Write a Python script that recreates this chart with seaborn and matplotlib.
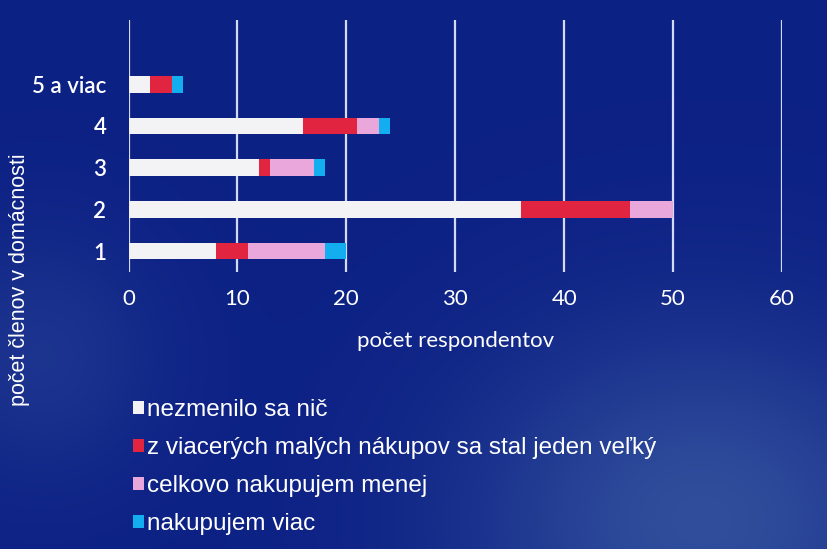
import numpy as np
import pandas as pd
import matplotlib
matplotlib.use("Agg")
import matplotlib.pyplot as plt
from matplotlib.patches import Patch
import seaborn as sns

# data
categories = ["5 a viac", "4", "3", "2", "1"]
nezmenilo = [2, 16, 12, 36, 8]
viacero_do_jedneho = [2, 5, 1, 10, 3]
menej = [0, 2, 4, 4, 7]
viac = [1, 1, 1, 0, 2]

series_names = [
    "nezmenilo sa nič",
    "z viacerých malých nákupov sa stal jeden veľký",
    "celkovo nakupujem menej",
    "nakupujem viac",
]
series_colors = ["#f3f3f5", "#e1243f", "#eaa7dc", "#12aef0"]

df = pd.DataFrame({
    "clenov": categories,
    series_names[0]: nezmenilo,
    series_names[1]: viacero_do_jedneho,
    series_names[2]: menej,
    series_names[3]: viac,
})

sns.set_theme(style="white")
plt.rcParams["font.family"] = ["Lato", "DejaVu Sans"]

W, H = 827, 549
fig = plt.figure(figsize=(W / 100, H / 100), dpi=100)

# dark blue background with soft lighter patches
bg = fig.add_axes([0, 0, 1, 1], zorder=-10)
yy, xx = np.mgrid[0:1:200j, 0:1:300j]
glow = np.exp(-(((xx - 0.85) ** 2) / 0.08 + ((yy - 0.05) ** 2) / 0.12))
glow2 = np.exp(-(((xx - 0.05) ** 2) / 0.02 + ((yy - 0.35) ** 2) / 0.05))
base = np.array([0.05, 0.13, 0.52])
light = np.array([0.25, 0.38, 0.65])
mix = (0.7 * glow + 0.3 * glow2)[..., None]
img = base[None, None, :] * (1 - mix) + light[None, None, :] * mix
bg.imshow(img, origin="lower", aspect="auto", extent=[0, 1, 0, 1])
bg.axis("off")

ax = fig.add_axes([128.5 / W, 1 - 272 / H, (782 - 128.5) / W, (272 - 20) / H])
ax.patch.set_alpha(0)

# stacked bars: draw cumulative totals from the outermost segment inward
cum = df[series_names].cumsum(axis=1)
for name, color in reversed(list(zip(series_names, series_colors))):
    sns.barplot(data=cum, x=name, y=df["clenov"], order=categories, orient="h",
                color=color, width=0.4, saturation=1, edgecolor="none",
                linewidth=0, ax=ax, zorder=3)

ax.set_xlim(0, 60)
ax.set_ylim(4.5, -1.54)
ax.set_xticks(range(0, 61, 10))
ax.xaxis.grid(True, color="#d3daf3", linewidth=1.6, zorder=0)
ax.yaxis.grid(False)
for s in ax.spines.values():
    s.set_visible(False)
ax.tick_params(axis="both", length=0, colors="white", labelsize=16)
ax.tick_params(axis="x", pad=12)
ax.tick_params(axis="y", pad=16)
for lab in ax.get_yticklabels():
    lab.set_fontweight("semibold")
ax.set_ylabel("")
ax.set_xlabel("počet respondentov", color="white", fontsize=16, labelpad=16)

fig.text(20 / W, 1 - 280 / H, "počet členov v domácnosti", rotation=90,
         ha="center", va="center", color="white", fontsize=15.5,
         family=["Liberation Sans", "DejaVu Sans"])

handles = [Patch(facecolor=c, edgecolor="none") for c in series_colors]
leg = fig.legend(handles, series_names, loc="upper left",
                 bbox_to_anchor=(111 / W, 1 - 377 / H), frameon=False,
                 handlelength=0.45, handleheight=0.45,
                 handletextpad=0.15, labelspacing=0.66,
                 prop={"family": ["Liberation Sans", "DejaVu Sans"], "size": 17.5})
for t in leg.get_texts():
    t.set_color("white")

fig.savefig("out.png", dpi=100)
